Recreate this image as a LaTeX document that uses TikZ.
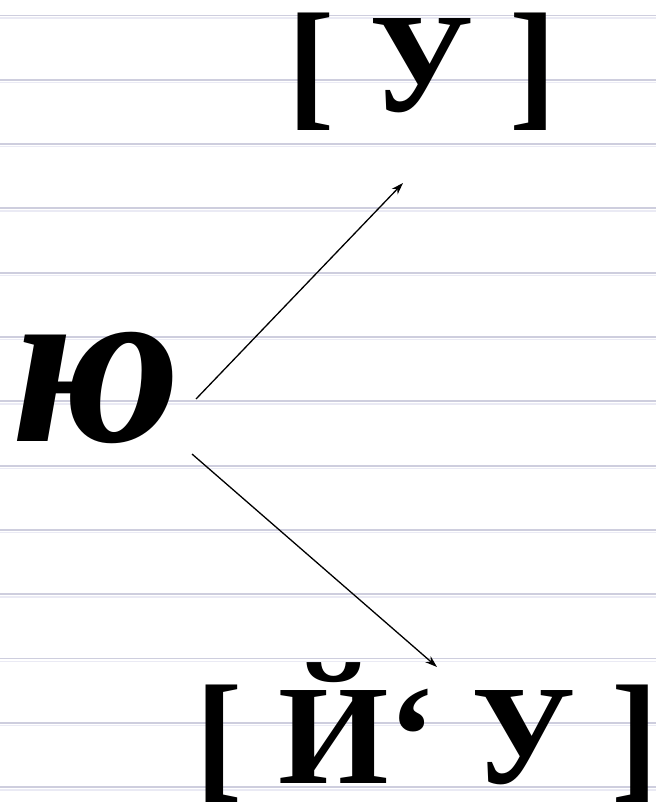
\documentclass[tikz,border=0pt]{standalone}
\usepackage{fontspec}
\setmainfont{Liberation Serif}
\usetikzlibrary{arrows.meta}
\definecolor{ruleline}{RGB}{206,206,222}
\definecolor{rulelight}{RGB}{234,234,244}
\tikzset{
  ruling/.style={draw=ruleline, line width=1.8pt},
  rulingsoft/.style={draw=rulelight, line width=1.4pt},
  bigtext/.style={font=\bfseries\fontsize{142}{142}\selectfont, inner sep=0pt, anchor=base},
  yutext/.style={font=\bfseries\itshape\fontsize{232}{232}\selectfont, inner sep=0pt, anchor=base},
  conn/.style={line width=1.3pt, -{Stealth[length=12pt,width=8pt]}}
}
\begin{document}
\begin{tikzpicture}[x=1pt,y=-1pt]
\useasboundingbox[fill=white] (0,0) rectangle (656,810);
\foreach \k in {0,...,12}{
  \draw[rulingsoft] (0,{18.2+64.3*\k}) -- (656,{18.2+64.3*\k});
  \draw[ruling] (0,{15.5+64.3*\k}) -- (656,{15.5+64.3*\k});
}
\node[bigtext] (top) at (422,112) {[ У ]};
\node[bigtext] (bot) at (427,783) {[ Й‘ У ]};
\node[yutext] (yu) at (96,441) {ю};
\coordinate (a1) at (196,399);
\coordinate (a2) at (403,183);
\coordinate (b1) at (192,454);
\coordinate (b2) at (437,667);
\draw[conn] (a1) -- (a2);
\draw[conn] (b1) -- (b2);
\end{tikzpicture}
\end{document}
